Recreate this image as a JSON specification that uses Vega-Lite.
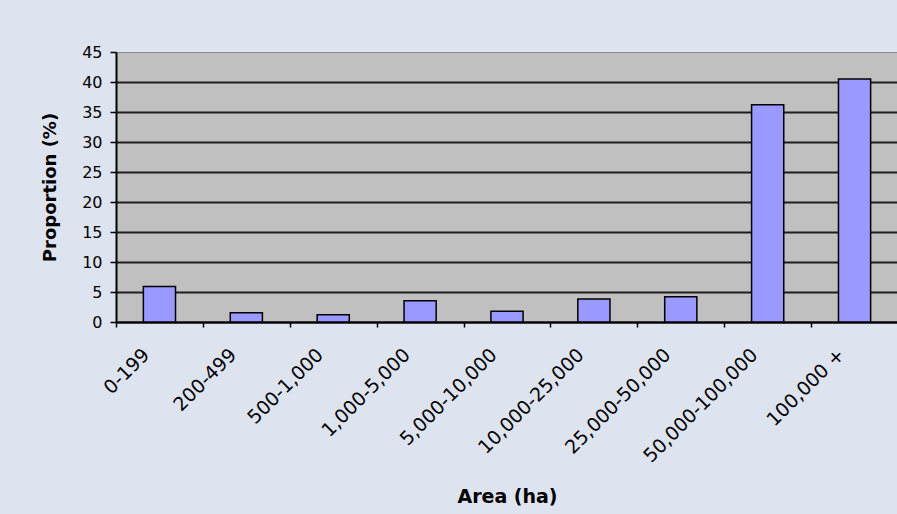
{
  "$schema": "https://vega.github.io/schema/vega-lite/v6.json",
  "width": 782,
  "height": 270,
  "autosize": {"type": "none"},
  "padding": {"left": 116, "top": 52, "right": 0, "bottom": 192},
  "background": "#dde3ef",
  "config": {
    "view": {"fill": "#c0c0c0", "stroke": "#8a8a8a", "strokeWidth": 1},
    "font": "DejaVu Sans"
  },
  "data": {
    "values": [
      {"area": "0-199", "proportion": 5.9},
      {"area": "200-499", "proportion": 1.55},
      {"area": "500-1,000", "proportion": 1.2},
      {"area": "1,000-5,000", "proportion": 3.55},
      {"area": "5,000-10,000", "proportion": 1.8},
      {"area": "10,000-25,000", "proportion": 3.85},
      {"area": "25,000-50,000", "proportion": 4.2},
      {"area": "50,000-100,000", "proportion": 36.2},
      {"area": "100,000 +", "proportion": 40.5}
    ]
  },
  "mark": {"type": "bar", "fill": "#9999ff", "stroke": "#000000", "strokeWidth": 1.5, "width": {"band": 0.37}},
  "encoding": {
    "x": {
      "field": "area",
      "type": "nominal",
      "sort": null,
      "scale": {"paddingInner": 0, "paddingOuter": 0},
      "axis": {
        "title": "Area (ha)",
        "titleFont": "DejaVu Sans",
        "titleFontSize": 19,
        "titleFontWeight": "bold",
        "titleColor": "#000000",
        "titlePadding": 22,
        "labelAngle": -45,
        "labelFontSize": 19,
        "labelColor": "#000000",
        "labelPadding": 18,
        "labelOffset": -20,
        "tickBand": "extent",
        "tickSize": 5,
        "tickColor": "#000000",
        "tickWidth": 1.5,
        "domainColor": "#000000",
        "domainWidth": 2,
        "grid": false
      }
    },
    "y": {
      "field": "proportion",
      "type": "quantitative",
      "scale": {"domain": [0, 45], "nice": false},
      "axis": {
        "title": "Proportion (%)",
        "titleFont": "DejaVu Sans",
        "titleFontSize": 18,
        "titleFontWeight": "bold",
        "titleColor": "#000000",
        "titlePadding": 22,
        "values": [0, 5, 10, 15, 20, 25, 30, 35, 40, 45],
        "labelFontSize": 16,
        "labelColor": "#000000",
        "labelPadding": 8,
        "tickSize": 6,
        "tickColor": "#000000",
        "tickWidth": 1.5,
        "domainColor": "#000000",
        "domainWidth": 2,
        "grid": true,
        "gridColor": {"condition": {"test": "datum.value === 45", "value": "#8a8a8a"}, "value": "#1e1e1e"},
        "gridWidth": {"condition": {"test": "datum.value === 45", "value": 1}, "value": 2},
        "gridOpacity": 1
      }
    }
  }
}
